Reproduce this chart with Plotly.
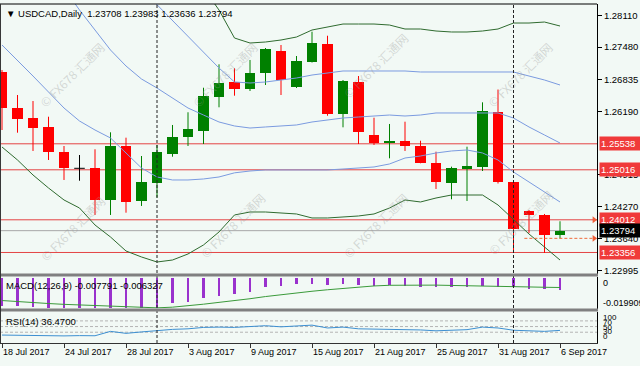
import plotly.graph_objects as go

# ---------------- data ----------------
bar_idx = list(range(37))
date_ticks = [0, 4, 8, 12, 16, 20, 24, 28, 32, 36]
date_labels = ["18 Jul 2017", "24 Jul 2017", "28 Jul 2017", "3 Aug 2017", "9 Aug 2017",
               "15 Aug 2017", "21 Aug 2017", "25 Aug 2017", "31 Aug 2017", "6 Sep 2017"]
month_starts = [10, 33]  # 1 Aug, 1 Sep

open_ = [1.26970, 1.26263, 1.26050, 1.25870, 1.25368, 1.25046, 1.25058, 1.24410, 1.25500, 1.24396,
         1.24757, 1.25327, 1.25669, 1.25801, 1.26484, 1.26773, 1.26638, 1.26954, 1.27407, 1.26672,
         1.27174, 1.27542, 1.26136, 1.26785, 1.25715, 1.25548, 1.25600, 1.25494, 1.25147, 1.24751,
         1.25033, 1.25079, 1.26183, 1.24777, 1.24183, 1.24109, 1.23708]
high = [1.27020, 1.26518, 1.26397, 1.26082, 1.25494, 1.25313, 1.25428, 1.25769, 1.25661, 1.25293,
        1.25514, 1.25916, 1.26171, 1.26664, 1.27134, 1.27054, 1.27221, 1.27461, 1.27522, 1.27301,
        1.27789, 1.27708, 1.26819, 1.26899, 1.26062, 1.25936, 1.25982, 1.25600, 1.25380, 1.25079,
        1.25480, 1.26371, 1.26628, 1.24791, 1.24209, 1.24129, 1.23983]
low = [1.25815, 1.25761, 1.25394, 1.25213, 1.24812, 1.24797, 1.24109, 1.24109, 1.24155, 1.24290,
       1.24460, 1.25279, 1.25494, 1.25534, 1.26271, 1.26504, 1.26598, 1.26719, 1.26518, 1.26658,
       1.27170, 1.26102, 1.25869, 1.25534, 1.25514, 1.25247, 1.25394, 1.25147, 1.24631, 1.24424,
       1.24390, 1.24992, 1.24741, 1.23386, 1.23748, 1.23346, 1.23636]
close = [1.26251, 1.26030, 1.25861, 1.25380, 1.25058, 1.25046, 1.24410, 1.25500, 1.24376, 1.24765,
         1.25368, 1.25681, 1.25835, 1.26498, 1.26765, 1.26638, 1.26966, 1.27435, 1.26819, 1.27200,
         1.27568, 1.26130, 1.26805, 1.25781, 1.25548, 1.25594, 1.25494, 1.25147, 1.24765, 1.25046,
         1.25093, 1.26203, 1.24765, 1.23822, 1.24109, 1.23707, 1.23794]

# Bollinger-style envelopes (blue: upper / middle / lower, green: wide upper / lower)
blue_upper = [None, None, None, None, None, None, None, None, 1.28967, 1.28646,
              1.28325, 1.28023, 1.27698, 1.27381, 1.27060, 1.26779, 1.26759, 1.26779, 1.26819, 1.26859,
              1.26919, 1.26960, 1.27000, 1.27000, 1.27000, 1.27000, 1.27000, 1.26980, 1.26980, 1.26980,
              1.26980, 1.26980, 1.26980, 1.26980, 1.26899, 1.26819, 1.26719]
blue_mid = [1.30131, 1.29790, 1.29429, 1.29027, 1.28666, 1.28224, 1.27823, 1.27421, 1.27100, 1.26839,
            1.26658, 1.26458, 1.26257, 1.26116, 1.25976, 1.25896, 1.25855, 1.25876, 1.25896, 1.25916,
            1.25976, 1.26016, 1.26056, 1.26076, 1.26096, 1.26116, 1.26096, 1.26116, 1.26157, 1.26157,
            1.26157, 1.26157, 1.26157, 1.26056, 1.25876, 1.25715, 1.25554]
blue_lower = [1.27522, 1.27220, 1.26899, 1.26578, 1.26257, 1.25996, 1.25815, 1.25655, 1.25354, 1.25052,
              1.24872, 1.24812, 1.24812, 1.24832, 1.24872, 1.24955, 1.24992, 1.25013, 1.25013, 1.25013,
              1.25013, 1.25013, 1.25032, 1.25052, 1.25073, 1.25133, 1.25253, 1.25293, 1.25354, 1.25394,
              1.25414, 1.25354, 1.25213, 1.24972, 1.24771, 1.24571, 1.24370]
green_upper = [None, None, None, None, None, None, None, None, None, None,
               None, None, 1.29228, 1.28666, 1.28224, 1.27662, 1.27562, 1.27582, 1.27622, 1.27682,
               1.27823, 1.27883, 1.27943, 1.27943, 1.27943, 1.27923, 1.27843, 1.27843, 1.27803, 1.27783,
               1.27783, 1.27803, 1.27843, 1.27963, 1.27963, 1.27983, 1.27903]
green_lower = [1.25474, 1.25213, 1.24912, 1.24651, 1.24410, 1.24249, 1.23908, 1.23667, 1.23386, 1.23266,
               1.23165, 1.23205, 1.23326, 1.23507, 1.23768, 1.24109, 1.24169, 1.24169, 1.24149, 1.24129,
               1.24049, 1.24049, 1.24069, 1.24089, 1.24129, 1.24249, 1.24410, 1.24370, 1.24450, 1.24510,
               1.24510, 1.24510, 1.24310, 1.24008, 1.23727, 1.23466, 1.23205]

# horizontal levels
red_levels = [1.25538, 1.25016, 1.24012, 1.23356]
bid_level = 1.23794
target_level = 1.23640
price_ticks = [1.28110, 1.27480, 1.26835, 1.26190, 1.24915, 1.24270, 1.23640, 1.22995]

# MACD(12,26,9)
macd = [-0.0172, -0.0173, -0.0177, -0.0182, -0.0184, -0.0184, -0.0185, -0.0184, -0.0185, -0.0185,
        -0.0186, -0.0156, -0.0146, -0.0122, -0.0112, -0.0098, -0.0086, -0.0057, -0.0051, -0.0041,
        -0.0037, -0.0045, -0.0041, -0.0045, -0.0051, -0.0047, -0.0051, -0.0057, -0.0057, -0.0057,
        -0.0055, -0.0051, -0.0057, -0.0057, -0.0068, -0.0072, -0.007791]
macd_signal = [-0.0142, -0.0149, -0.0155, -0.0160, -0.0165, -0.0169, -0.0172, -0.0176, -0.0180, -0.0184,
               -0.0186, -0.0182, -0.0175, -0.0164, -0.0153, -0.0143, -0.0131, -0.0118, -0.0106, -0.0095,
               -0.0086, -0.0077, -0.0068, -0.0060, -0.0054, -0.0050, -0.0049, -0.0048, -0.0049, -0.0051,
               -0.0052, -0.0054, -0.0056, -0.0058, -0.0060, -0.0062, -0.006327]

# RSI(14)
rsi = [20, 19, 18.5, 17.5, 17, 18, 17.5, 33, 26, 31,
       36, 40, 42, 47, 48, 47, 50, 53, 49, 52,
       55, 45, 48, 42, 41, 41, 40, 38, 35, 38,
       39, 48, 45, 37, 36, 33, 36.47]
rsi_levels = [70, 50, 30]

# ---------------- style ----------------
BG = "#f2f9f5"
GREEN = "#008000"
RED = "#ff0000"
LINE_RED = "#e44444"
BOX_RED = "#f03a3a"
FONT = "Liberation Sans"

# geometry helpers (plot area px: x 0..597, y 4..343)
def py(p):
    return (343 - p) / 339.0

def px(p):
    return p / 597.0

fig = go.Figure()

# ---------------- candles ----------------
up = [i for i in bar_idx if close[i] > open_[i]]
dn = [i for i in bar_idx if close[i] < open_[i]]
dj = [i for i in bar_idx if close[i] == open_[i]]

def wicks(ids):
    xs, ys = [], []
    for i in ids:
        xs += [i, i, None]
        ys += [low[i], high[i], None]
    return xs, ys

for ids, col in ((up, GREEN), (dn, RED), (dj, "#000000")):
    wx, wy = wicks(ids)
    fig.add_trace(go.Scatter(x=wx, y=wy, mode="lines", line=dict(color=col, width=1),
                             hoverinfo="skip", yaxis="y"))

fig.add_trace(go.Bar(x=up, base=[open_[i] for i in up], y=[close[i] - open_[i] for i in up],
                     width=0.68, marker=dict(color=GREEN, line=dict(width=0)), yaxis="y"))
fig.add_trace(go.Bar(x=dn, base=[close[i] for i in dn], y=[open_[i] - close[i] for i in dn],
                     width=0.68, marker=dict(color=RED, line=dict(width=0)), yaxis="y"))
djx, djy = [], []
for i in dj:
    djx += [i - 0.34, i + 0.34, None]
    djy += [open_[i], open_[i], None]
fig.add_trace(go.Scatter(x=djx, y=djy, mode="lines", line=dict(color="#000000", width=1), yaxis="y"))

# bands
for series, col in ((blue_upper, "#7b9be0"), (blue_mid, "#7b9be0"), (blue_lower, "#7b9be0"),
                    (green_upper, "#2f6b2f"), (green_lower, "#2f6b2f")):
    fig.add_trace(go.Scatter(x=bar_idx, y=series, mode="lines", line=dict(color=col, width=1),
                             connectgaps=False, yaxis="y"))

# orange dashed target line with arrowheads
fig.add_trace(go.Scatter(x=[33.7, 38.1], y=[target_level, target_level], mode="lines",
                         line=dict(color="#f06a3a", width=1, dash="3px,2px"), yaxis="y"))
fig.add_trace(go.Scatter(x=[38.2, 38.2], y=[red_levels[2], target_level], mode="markers",
                         marker=dict(symbol="triangle-right", size=6, color="#f0603a"), yaxis="y"))

# ---------------- MACD ----------------
fig.add_trace(go.Bar(x=bar_idx, y=macd, width=0.14, marker=dict(color="#9a32cd", line=dict(width=0)),
                     yaxis="y2"))
fig.add_trace(go.Scatter(x=bar_idx, y=macd_signal, mode="lines", line=dict(color="#3a9a3a", width=1),
                         yaxis="y2"))

# ---------------- RSI ----------------
fig.add_trace(go.Scatter(x=bar_idx, y=rsi, mode="lines", line=dict(color="#3d8fd1", width=1), yaxis="y3"))

shapes = []
for lv in red_levels:
    shapes.append(dict(type="line", xref="paper", x0=0, x1=1, yref="y", y0=lv, y1=lv,
                       line=dict(color=LINE_RED, width=1), layer="below"))
shapes.append(dict(type="line", xref="paper", x0=0, x1=1, yref="y", y0=bid_level, y1=bid_level,
                   line=dict(color="#a8a8a8", width=1), layer="below"))
for lv in rsi_levels:
    shapes.append(dict(type="line", xref="paper", x0=0, x1=1, yref="y3", y0=lv, y1=lv,
                       line=dict(color="#b4b4b4", width=1, dash="3px,2px"), layer="below"))
for m in month_starts:
    shapes.append(dict(type="line", xref="x", x0=m, x1=m, yref="paper", y0=0, y1=1,
                       line=dict(color="#222222", width=1, dash="3px,2px")))
for a, b in ((273.5, 276.5), (308.5, 311.5)):
    shapes.append(dict(type="rect", xref="paper", x0=0, x1=px(598), yref="paper", y0=py(b), y1=py(a),
                       fillcolor="#808080", line=dict(width=0)))
shapes.append(dict(type="line", xref="paper", x0=0, x1=1, yref="paper", y0=1, y1=1,
                   line=dict(color="#000000", width=1)))
shapes.append(dict(type="line", xref="paper", x0=0.0008, x1=0.0008, yref="paper", y0=0, y1=1,
                   line=dict(color="#333333", width=1)))

annotations = []
annotations.append(dict(xref="paper", yref="paper", x=0, y=py(14), xshift=4, xanchor="left", yanchor="middle",
                        text="▼ USDCAD,Daily  1.23708 1.23983 1.23636 1.23794", showarrow=False,
                        font=dict(family=FONT, size=9.5, color="#000000")))
annotations.append(dict(xref="paper", yref="paper", x=0, y=py(285), xshift=4, xanchor="left", yanchor="middle",
                        text="MACD(12,26,9) -0.007791 -0.006327", showarrow=False,
                        font=dict(family=FONT, size=9.5, color="#000000")))
annotations.append(dict(xref="paper", yref="paper", x=0, y=py(321.5), xshift=4, xanchor="left", yanchor="middle",
                        text="RSI(14) 36.4700", showarrow=False,
                        font=dict(family=FONT, size=9.5, color="#000000")))
for lv in red_levels:
    annotations.append(dict(xref="paper", yref="y", x=1, y=lv, xshift=2, xanchor="left", yanchor="middle",
                            text=f"{lv:.5f}", showarrow=False, bgcolor=BOX_RED, borderpad=1, width=38,
                            align="left", font=dict(family=FONT, size=9.5, color="#ffffff")))
annotations.append(dict(xref="paper", yref="y", x=1, y=bid_level, xshift=2, xanchor="left", yanchor="middle",
                        text=f"{bid_level:.5f}", showarrow=False, bgcolor="#000000", borderpad=1, width=38,
                        align="left", font=dict(family=FONT, size=9.5, color="#ffffff")))
for txt, yy, fs in (("0", 283, 9), ("-0.019909", 303, 9), ("100", 317.5, 8), ("70", 322, 8),
                    ("50", 327, 8), ("30", 331.5, 8), ("0", 336.5, 8)):
    annotations.append(dict(xref="paper", yref="paper", x=1, y=py(yy), xshift=4, xanchor="left", yanchor="middle",
                            text=txt, showarrow=False, font=dict(family=FONT, size=fs, color="#000000")))
for t, lab in zip(date_ticks, date_labels):
    annotations.append(dict(xref="x", yref="paper", x=t, y=py(351.5), xshift=-1, xanchor="left", yanchor="middle",
                            text=lab, showarrow=False, font=dict(family=FONT, size=9, color="#000000")))
for wx, wy in ((72, 75), (72, 228), (225, 75), (232, 225), (375, 65), (375, 225), (520, 75), (520, 222)):
    annotations.append(dict(xref="paper", yref="paper", x=px(wx), y=py(wy), xanchor="center", yanchor="middle",
                            text="© FX678 汇通网", textangle=-45, showarrow=False,
                            font=dict(family="Noto Sans CJK SC", size=12, color="rgba(150,150,150,0.35)")))

fig.update_layout(
    width=640, height=366, margin=dict(l=0, r=43, t=4, b=23),
    paper_bgcolor=BG, plot_bgcolor=BG, showlegend=False, barmode="overlay", bargap=0,
    shapes=shapes, annotations=annotations,
    xaxis=dict(range=[-0.129, 38.387], showgrid=False, zeroline=False, showticklabels=False,
               ticks="outside", ticklen=4, tickcolor="#333333", tickvals=date_ticks, anchor="y3",
               showline=True, linecolor="#333333", linewidth=1),
    yaxis=dict(domain=[py(274), 1], range=[1.22924, 1.28345], side="right", anchor="x",
               tickvals=price_ticks, ticktext=[f"{v:.5f}" for v in price_ticks],
               ticks="outside", ticklen=4, tickcolor="#000000", showgrid=False, zeroline=False,
               showline=True, linecolor="#000000", linewidth=1,
               tickfont=dict(family=FONT, size=9.5, color="#000000")),
    yaxis2=dict(domain=[py(308.5), py(276.5)], range=[-0.0190, 0.0003], side="right", anchor="x",
                showticklabels=False, showgrid=False, zeroline=False, showline=True, linecolor="#000000",
                ticks=""),
    yaxis3=dict(domain=[0, py(311.5)], range=[-8.1, 103.2], side="right", anchor="x",
                showticklabels=False, showgrid=False, zeroline=False, showline=True, linecolor="#000000",
                ticks=""),
)

fig.write_html("out.html")
